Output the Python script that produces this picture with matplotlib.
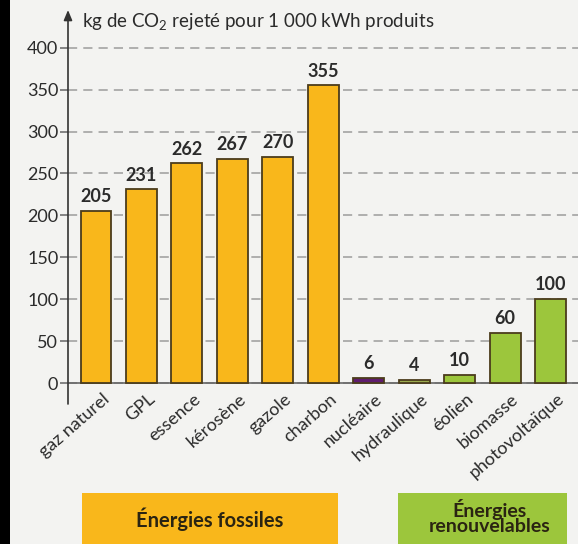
import matplotlib
matplotlib.use("Agg")
import matplotlib.pyplot as plt
from matplotlib.patches import Rectangle

plt.rcParams["font.family"] = ["Lato", "DejaVu Sans"]
plt.rcParams["mathtext.default"] = "regular"

# ---- data ----
categories = ["gaz naturel", "GPL", "essence", "kérosène", "gazole", "charbon",
              "nucléaire", "hydraulique", "éolien", "biomasse", "photovoltaïque"]
values = [205, 231, 262, 267, 270, 355, 6, 4, 10, 60, 100]
yticks = [0, 50, 100, 150, 200, 250, 300, 350, 400]

ORANGE = "#F9B71B"
GREEN = "#9CC63C"
PURPLE = "#5E1C6E"
OLIVE = "#9AAA4E"
EDGE = "#4B3C1C"
BG = "#F3F3F1"
INK = "#2B2B2B"
GRID = "#9C9C9C"

colors = [ORANGE] * 6 + [PURPLE, OLIVE, GREEN, GREEN, GREEN]

W, H = 578, 544
fig = plt.figure(figsize=(W / 100, H / 100), dpi=100)
fig.patch.set_facecolor(BG)

# axes placed in pixel terms
left, right, bottom, top = 68, 578, 404, 10
ax = fig.add_axes([left / W, 1 - bottom / H, (right - left) / W, (bottom - top) / H])
ax.set_facecolor("none")
ax.set_ylim(-25, 445)
ax.set_xlim(-0.616, 10.605)

for s in ["top", "right", "bottom", "left"]:
    ax.spines[s].set_visible(False)

# dashed grid lines
for t in yticks:
    ax.axhline(t, color=GRID, lw=1.1, ls=(0, (6, 4)), zorder=0)
ax.axhline(0, color="#666666", lw=1.2, zorder=1)

x = list(range(len(categories)))
ax.bar(x, values, width=0.68, color=colors, edgecolor=EDGE, linewidth=1.3, zorder=3)

for xi, v in zip(x, values):
    ax.text(xi, v + 7, str(v), ha="center", va="bottom", fontsize=13,
            fontweight="bold", color=INK, zorder=4)

for xi, lab in zip(x, categories):
    ax.text(xi + 0.13, -9, lab, ha="right", va="top", rotation=41,
            rotation_mode="anchor", fontsize=13, color=INK)

ax.set_yticks(yticks)
ax.set_yticklabels([str(t) for t in yticks], fontsize=13, color=INK)
ax.tick_params(axis="y", length=6, width=1.1, color="#666666", pad=1)
ax.set_xticks([])

# y axis with arrow
ax.annotate("", xy=(-0.616, 445), xytext=(-0.616, -25),
            xycoords="data", textcoords="data",
            arrowprops=dict(arrowstyle="-|>,head_width=0.25,head_length=0.6",
                            color="#333333", lw=1.2, shrinkA=0, shrinkB=0))

fig.text(82 / W, 1 - 22 / H, "kg de CO$_2$ rejeté pour 1 000 kWh produits",
         ha="left", va="center", fontsize=13.5, color=INK)

# legend boxes at bottom
fig.patches.append(Rectangle((82 / W, 0), (338 - 82) / W, (544 - 493) / H,
                             transform=fig.transFigure, facecolor=ORANGE,
                             edgecolor="none"))
fig.patches.append(Rectangle((398 / W, 0), (567 - 398) / W, (544 - 493) / H,
                             transform=fig.transFigure, facecolor=GREEN,
                             edgecolor="none"))
fig.text(210 / W, 1 - 519 / H, "Énergies fossiles", ha="center", va="center",
         fontsize=14.5, fontweight="bold", color="#2A2412")
fig.text(490 / W, 1 - 517 / H, "Énergies\nrenouvelables", ha="center",
         va="center", fontsize=14, fontweight="bold", color="#2A2412",
         linespacing=0.9)

# black border on the left
fig.patches.append(Rectangle((0, 0), 10 / W, 1, transform=fig.transFigure,
                             facecolor="black", edgecolor="none"))

fig.savefig("out.png", dpi=100, facecolor=BG)
